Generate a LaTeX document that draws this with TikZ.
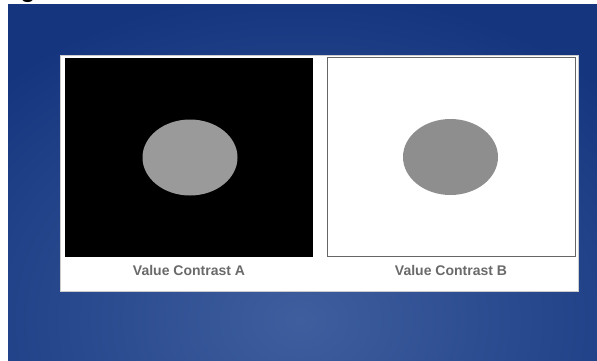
\documentclass[tikz,border=0pt]{standalone}
\usepackage{fontspec}
\setmainfont{Liberation Sans}
\usetikzlibrary{shapes.geometric,positioning}

\definecolor{slidedark}{HTML}{15367F}
\definecolor{slidelight}{HTML}{3E5E9E}
\definecolor{blobgray}{HTML}{9A9A9A}
\definecolor{blobgrayB}{HTML}{8E8E8E}
\definecolor{captiongray}{HTML}{6A6A6A}

\begin{document}
\begin{tikzpicture}[x=1pt,y=-1pt,
    square/.style={rectangle, inner sep=0pt, minimum width=248pt, minimum height=199pt},
    blob/.style={ellipse, inner sep=0pt, minimum width=95pt, minimum height=76pt},
    caption/.style={font=\bfseries\fontsize{14}{16}\selectfont, text=captiongray, inner sep=0pt}]
        \useasboundingbox (0,0) rectangle (597,360);
        \clip (0,0) rectangle (597,360);
        \fill[white] (0,0) rectangle (597,360);

        % slide background
        \begin{scope}
          \clip (8,4) rectangle (597,360);
          \fill[slidedark] (8,4) rectangle (597,360);
          \shade[inner color=slidelight, outer color=slidedark] (300,320) ellipse (430pt and 330pt);
        \end{scope}
        \node[anchor=base, font=\bfseries\fontsize{24}{24}\selectfont] (titlefrag) at (28,-3) {g};

        % white card
        \node[rectangle, fill=white, draw=gray!40, line width=0.6pt, inner sep=0pt,
              minimum width=518pt, minimum height=236pt] (card) at (319,173) {};

        \node[square, fill=black] (darksq) at (189,157.5) {};
        \node[square, fill=white, draw=gray!80!black, line width=1pt] (lightsq) at (451,156.5) {};

        \node[blob, fill=blobgray] (blobA) at (190,157.5) {};
        \node[blob, fill=blobgrayB] (blobB) at (450.5,157) {};

        \node[caption, below=8pt of darksq] (capA) {Value Contrast A};
        \node[caption, below=9pt of lightsq] (capB) {Value Contrast B};
      \end{tikzpicture}
\end{document}
